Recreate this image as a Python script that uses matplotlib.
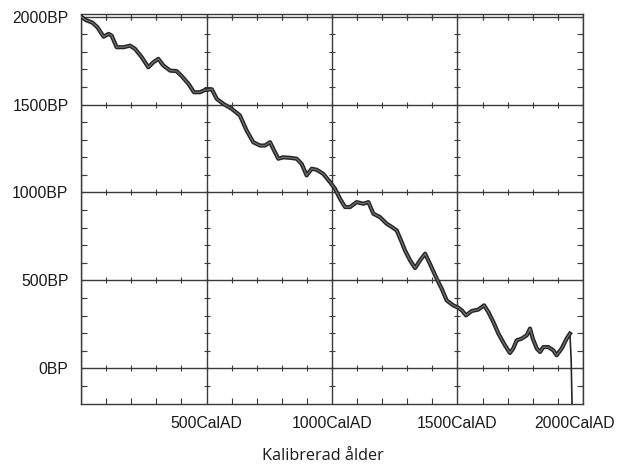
import numpy as np
import matplotlib
matplotlib.use("Agg")
import matplotlib.pyplot as plt
from matplotlib.transforms import ScaledTranslation

# kalibreringskurva: kalenderår (AD) mot 14C-ålder (BP)
cal_ad = [0, 20, 45, 65, 90, 110, 122, 142, 170, 195, 215, 242, 268, 288, 308,
          328, 355, 381, 401, 428, 450, 474, 494, 521, 541, 567, 600, 633, 660,
          686, 713, 733, 753, 766, 786, 806, 833, 859, 879, 899, 919, 939, 965,
          992, 1012, 1032, 1052, 1072, 1098, 1125, 1145, 1165, 1191, 1218, 1240,
          1258, 1275, 1291, 1311, 1331, 1351, 1371, 1390, 1417, 1437, 1457, 1483,
          1503, 1517, 1534, 1557, 1583, 1606, 1623, 1643, 1663, 1689, 1709, 1722,
          1736, 1756, 1776, 1789, 1800, 1816, 1829, 1842, 1862, 1882, 1895, 1915,
          1935, 1948]
bp = [2000, 1980, 1966, 1940, 1886, 1902, 1892, 1826, 1826, 1835, 1817, 1769,
      1712, 1740, 1760, 1722, 1693, 1690, 1662, 1618, 1570, 1570, 1583, 1587,
      1532, 1504, 1476, 1438, 1352, 1286, 1267, 1267, 1286, 1248, 1192, 1200,
      1197, 1192, 1163, 1097, 1135, 1129, 1106, 1059, 1021, 964, 917, 917, 945,
      936, 945, 879, 860, 822, 802, 784, 727, 670, 614, 570, 614, 652, 595, 510,
      453, 386, 358, 345, 330, 301, 326, 334, 358, 320, 263, 197, 131, 87, 112,
      159, 169, 188, 226, 169, 112, 93, 121, 121, 102, 74, 112, 169, 197]
# bombkol efter 1950
tail_ad = [1948, 1953, 1962]
tail_bp = [197, 45, -600]

x_major = [0, 500, 1000, 1500, 2000]
x_labels = ["", "500CalAD", "1000CalAD", "1500CalAD", "2000CalAD"]
y_major = [0, 500, 1000, 1500, 2000]
y_labels = ["0BP", "500BP", "1000BP", "1500BP", "2000BP"]

plt.rcParams['font.family'] = ['Liberation Sans', 'DejaVu Sans']

fig = plt.figure(figsize=(6.19, 4.65), dpi=100)
ax = fig.add_axes([0.1309, 0.1312, 0.8109, 0.8387])
ax.set_xlim(0, 2000)
ax.set_ylim(-203, 2015)

gc = '#3a3a3a'
for v in x_major:
    ax.axvline(v, color=gc, lw=1.0, zorder=1)
for v in y_major:
    ax.axhline(v, color=gc, lw=1.0, zorder=1)

# små streck längs rutnätslinjerna
xm = np.arange(100, 2000, 100)
ym = np.arange(-100, 2001, 100)
for v in y_major:
    ax.plot(xm, np.full(len(xm), v), ls='none', marker='|', ms=4, mew=0.8,
            color=gc, zorder=1)
for v in x_major:
    ax.plot(np.full(len(ym), v), ym, ls='none', marker='_', ms=4, mew=0.8,
            color=gc, zorder=1)

# kurvan som band
cal = np.array(cal_ad)
c14 = np.array(bp)
ax.plot(cal, c14, color='#262626', lw=3.0, solid_joinstyle='round', zorder=3)
ax.plot(cal, c14, color='#707070', lw=0.9, solid_joinstyle='round', zorder=4)
ax.plot(tail_ad, tail_bp, color='#262626', lw=1.2, zorder=3)

ax.set_xticks(x_major)
ax.set_xticklabels(x_labels)
ax.set_yticks(y_major)
ax.set_yticklabels(y_labels)
ax.set_xticks(xm, minor=True)
ax.set_yticks(ym, minor=True)
ax.tick_params(which='both', direction='in', top=True, right=True,
               color=gc, width=0.8)
ax.tick_params(which='major', length=0, labelsize=11.3, pad=9,
               labelcolor='#1a1a1a')
ax.tick_params(which='minor', length=4)
for s in ax.spines.values():
    s.set_color(gc)
    s.set_linewidth(1.0)

# sista etiketten flyttas lite åt vänster så den ryms
last = ax.get_xticklabels()[-1]
last.set_transform(last.get_transform() + ScaledTranslation(-8 / 100, 0, fig.dpi_scale_trans))

fig.text(323 / 619, 1 - 456 / 465, "Kalibrerad ålder", ha='center', va='center',
         fontsize=11.7, color='#1a1a1a', family=['Open Sans', 'DejaVu Sans'])

fig.savefig('out.png', dpi=100)
